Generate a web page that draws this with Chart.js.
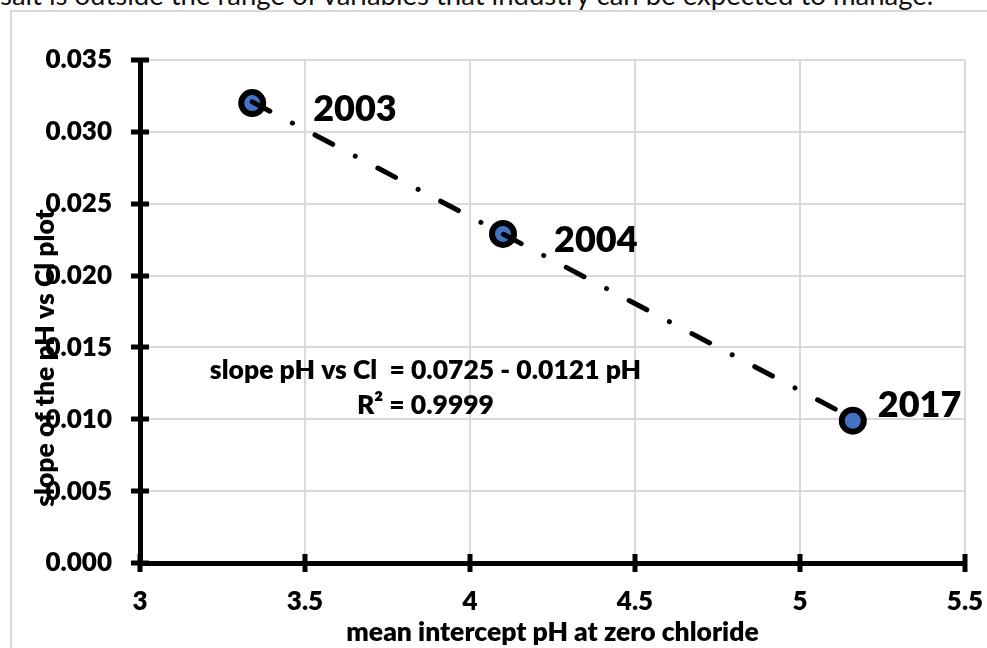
<!DOCTYPE html>
<html>
<head>
<meta charset="utf-8">
<script src="https://cdn.jsdelivr.net/npm/chart.js@4.4.1/dist/chart.umd.min.js"></script>
<style>
  html, body { margin: 0; padding: 0; background: #fff; overflow: hidden; }
  body { width: 987px; height: 648px; position: relative; }
  #caption { position: absolute; left: 0; top: -21px; font: 27.5px Lato, sans-serif; line-height: 32px; color: #111; white-space: nowrap; }
  #frame { position: absolute; left: 10px; top: 10px; width: 1000px; height: 700px; border: 2px solid #d9d9d9; box-sizing: border-box; }
  #wrap { position: absolute; left: 0; top: 0; width: 987px; height: 648px; }
</style>
</head>
<body>
<div id="caption">salt is outside the range of variables that industry can be expected to manage.</div>
<div id="frame"></div>
<div id="wrap"><canvas id="c" width="987" height="648"></canvas></div>
<script>
// Survey years and their fitted pH / chloride statistics
const years = ['2003', '2004', '2017'];
const meanInterceptPH = [3.34, 4.10, 5.16];
const slopePHvsCl = [0.0320, 0.0229, 0.0099];

// Linear fit printed on the chart
const fitIntercept = 0.0725;
const fitSlope = -0.0121;
const fitR2 = '0.9999';

// Axis ticks
const xTicks = [3, 3.5, 4, 4.5, 5, 5.5];
const xTickLabels = ['3', '3.5', '4', '4.5', '5', '5.5'];
const yTicks = [0, 0.005, 0.010, 0.015, 0.020, 0.025, 0.030, 0.035];
const yTickLabels = ['0.000', '0.005', '0.010', '0.015', '0.020', '0.025', '0.030', '0.035'];

const xTitle = 'mean intercept pH at zero chloride';
const yTitle = 'slope of the pH vs Cl plot';

const FONT = 'Lato, "Open Sans", sans-serif';
const WEIGHT = '800';

// trend line across the measured pH range
const xMin = Math.min(...meanInterceptPH);
const xMax = Math.max(...meanInterceptPH);
const trend = [xMin, xMax].map(v => ({ x: v, y: fitIntercept + fitSlope * v }));

// label placement next to each point (pixels)
const labelOffsets = [[61, 6], [51, 6], [25, -15]];

const overlay = {
  id: 'overlay',
  afterDatasetsDraw(chart) {
    const { ctx, chartArea: a, scales: { x, y } } = chart;
    ctx.save();

    // tick marks crossing the axis lines
    ctx.strokeStyle = '#000';
    ctx.lineWidth = 5;
    yTicks.forEach(v => {
      const py = Math.round(y.getPixelForValue(v));
      ctx.beginPath(); ctx.moveTo(a.left - 9, py); ctx.lineTo(a.left + 9, py); ctx.stroke();
    });
    xTicks.forEach(v => {
      const px = Math.round(x.getPixelForValue(v));
      ctx.beginPath(); ctx.moveTo(px, a.bottom - 9); ctx.lineTo(px, a.bottom + 9); ctx.stroke();
    });

    // year labels beside the points
    ctx.fillStyle = '#000';
    ctx.font = WEIGHT + ' 36px ' + FONT;
    ctx.textAlign = 'left';
    ctx.textBaseline = 'middle';
    years.forEach((t, i) => {
      const px = x.getPixelForValue(meanInterceptPH[i]) + labelOffsets[i][0];
      const py = y.getPixelForValue(slopePHvsCl[i]) + labelOffsets[i][1];
      ctx.fillText(t, px, py);
    });

    // fit equation
    ctx.font = WEIGHT + ' 26.5px ' + FONT;
    ctx.textAlign = 'center';
    const ex = a.left + (a.right - a.left) * 0.346;
    const ey = a.top + (a.bottom - a.top) * 0.617;
    const sign = fitSlope < 0 ? ' - ' : ' + ';
    ctx.fillText('slope pH vs Cl  = ' + fitIntercept.toFixed(4) + sign + Math.abs(fitSlope).toFixed(4) + ' pH', ex, ey);
    ctx.fillText('R² = ' + fitR2, ex, ey + 35);

    // vertical axis title
    ctx.font = WEIGHT + ' 26.5px ' + FONT;
    ctx.translate(45, 358);
    ctx.rotate(-Math.PI / 2);
    ctx.fillText(yTitle, 0, 0);

    ctx.restore();
  }
};

new Chart(document.getElementById('c'), {
  type: 'scatter',
  data: {
    datasets: [
      {
        type: 'line',
        data: trend,
        borderColor: '#000',
        borderWidth: 5,
        borderDash: [20, 25.5, 0.01, 25.5],
        borderCapStyle: 'round',
        pointRadius: 0,
        fill: false,
        order: 0
      },
      {
        data: meanInterceptPH.map((v, i) => ({ x: v, y: slopePHvsCl[i] })),
        backgroundColor: '#4472C4',
        borderColor: '#000',
        borderWidth: 6,
        pointRadius: 11,
        pointHoverRadius: 11,
        order: 1
      }
    ]
  },
  options: {
    responsive: false,
    animation: false,
    devicePixelRatio: 1,
    layout: { padding: { left: 0, right: 22, top: 60, bottom: 0 } },
    plugins: { legend: { display: false }, tooltip: { enabled: false } },
    scales: {
      x: {
        type: 'linear',
        min: 3,
        max: 5.5,
        afterBuildTicks: s => { s.ticks = xTicks.map(v => ({ value: v })); },
        afterFit: s => { s.height = 85; s.paddingLeft = 0; s.paddingRight = 0; },
        ticks: {
          callback: (v, i) => xTickLabels[i],
          color: '#000',
          font: { family: FONT, size: 26, weight: WEIGHT },
          padding: 23,
          maxRotation: 0
        },
        grid: { color: '#d9d9d9', lineWidth: 2, drawTicks: false },
        border: { display: true, color: '#000', width: 5 },
        title: {
          display: true,
          text: xTitle,
          color: '#000',
          font: { family: FONT, size: 26.5, weight: WEIGHT },
          padding: { top: 0, bottom: 0 }
        }
      },
      y: {
        type: 'linear',
        min: 0,
        max: 0.035,
        afterBuildTicks: s => { s.ticks = yTicks.map(v => ({ value: v })); },
        afterFit: s => { s.width = 140; s.paddingTop = 0; s.paddingBottom = 0; },
        ticks: {
          callback: (v, i) => yTickLabels[i],
          color: '#000',
          font: { family: FONT, size: 26, weight: WEIGHT },
          padding: 28
        },
        grid: { color: '#d9d9d9', lineWidth: 2, drawTicks: false },
        border: { display: true, color: '#000', width: 5 }
      }
    }
  },
  plugins: [overlay]
});
</script>
</body>
</html>
